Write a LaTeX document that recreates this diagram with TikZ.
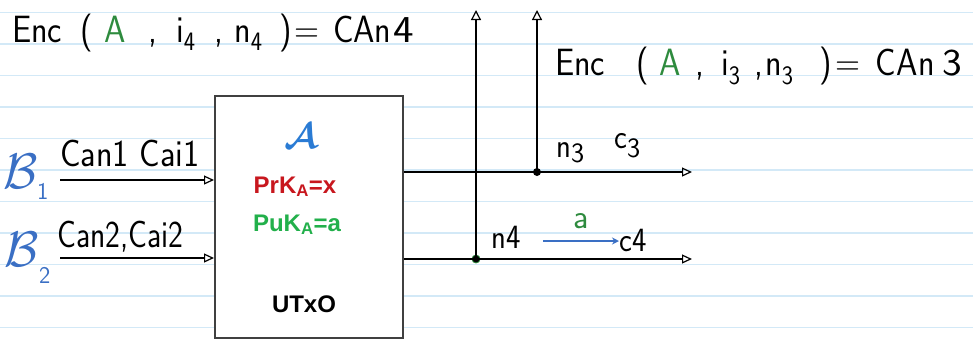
\documentclass[tikz,border=0pt]{standalone}
\usepackage{fontspec}
\setmainfont{Liberation Sans}
\usetikzlibrary{arrows.meta}
\definecolor{ruleblue}{HTML}{D3E9F7}
\definecolor{hwgreen}{HTML}{2E8B3E}
\definecolor{hwblue}{HTML}{3A6FC4}
\definecolor{keyred}{HTML}{C8171E}
\definecolor{keygreen}{HTML}{22B04B}
\definecolor{scriptblue}{HTML}{2A7BD4}
\newcommand\hwx[2][0.9]{\scalebox{#1}[1]{#2}}
\tikzset{
  hw/.style={inner sep=0pt, anchor=base west, font=\sffamily\fontsize{38}{38}\selectfont},
  hwmid/.style={hw, font=\sffamily\fontsize{34}{34}\selectfont},
  keytext/.style={inner sep=0pt, anchor=base, font=\bfseries\fontsize{24}{24}\selectfont},
  boxstyle/.style={draw=black!75, line width=2pt, fill=white, minimum width=188pt, minimum height=242pt, inner sep=0pt},
  pen/.style={line width=1.3pt, black},
  tipo/.style={-{Triangle[open, length=10pt, width=9pt, line width=1.2pt]}},
  tipup/.style={-{Triangle[open, length=10pt, width=10pt, line width=1.2pt]}},
  dot/.style={circle, fill=black, inner sep=0pt, minimum size=8pt}
}
\begin{document}
\begin{tikzpicture}[x=1pt,y=-1pt]
\useasboundingbox (0,0) rectangle (973,341);
\foreach \yy in {12.5,44,75.5,107,138.5,170,201.5,233,264.5,296,327.5}
  \draw[ruleblue, line width=1.3pt] (0,\yy) -- (973,\yy);

% top-left formula
\node[hw] (e1) at (12,42) {\hwx{Enc}};
\node[hw] (e2) at (80,42) {\hwx{(}};
\node[hw, text=hwgreen] (e3) at (104,42) {\hwx{A}};
\node[hw] (e4) at (148,42) {\hwx{,}};
\node[hw] (e5) at (176,42) {\hwx{i\textsubscript{4}}};
\node[hw] (e6) at (214,42) {\hwx{,}};
\node[hw] (e7) at (234,42) {\hwx{n\textsubscript{4}}};
\node[hw] (e8) at (279,42) {\hwx{)}};
\node[hw] (e9) at (294,42) {\hwx{=}};
\node[hw] (e10) at (333,42) {\hwx{C}};
\node[hw] (e11) at (353,42) {\hwx{A}};
\node[hw] (e12) at (374,42) {\hwx{n}};
\node[hw] (e13) at (393,42) {\hwx[1.15]{4}};

% top-right formula
\node[hw] (f1) at (555,75) {\hwx{Enc}};
\node[hw] (f2) at (636,75) {\hwx{(}};
\node[hw, text=hwgreen] (f3) at (659,75) {\hwx{A}};
\node[hw] (f4) at (695,75) {\hwx{,}};
\node[hw] (f5) at (721,75) {\hwx{i\textsubscript{3}}};
\node[hw] (f6) at (754,75) {\hwx{,}};
\node[hw] (f7) at (765,75) {\hwx{n\textsubscript{3}}};
\node[hw] (f8) at (819,75) {\hwx{)}};
\node[hw] (f9) at (835,75) {\hwx{=}};
\node[hw] (f10) at (875,75) {\hwx{C}};
\node[hw] (f11) at (896,75) {\hwx{A}};
\node[hw] (f12) at (918,75) {\hwx{n}};
\node[hw] (f13) at (942,75) {\hwx[1.1]{3}};

% box
\node[boxstyle] (box) at (309,217) {};
\node[inner sep=0pt, text=scriptblue] (sa) at (301,136) {\scalebox{3.6}{\boldmath$\mathcal{A}$}};
\node[keytext, text=keyred] (prk) at (295,193) {PrK\textsubscript{A}=x};
\node[keytext, text=keygreen] (puk) at (297,231) {PuK\textsubscript{A}=a};
\node[keytext, text=black] (utxo) at (304,312) {UTxO};

% inputs
\node[inner sep=0pt, anchor=base west, text=hwblue] (b1) at (3,188) {\scalebox{5}{$\mathcal{B}$}};
\node[inner sep=0pt, anchor=base west, text=hwblue, font=\sffamily\fontsize{24}{24}\selectfont] (b1s) at (37,199) {1};
\node[inner sep=0pt, anchor=base west, text=hwblue] (b2) at (4,266) {\scalebox{5}{$\mathcal{B}$}};
\node[inner sep=0pt, anchor=base west, text=hwblue, font=\sffamily\fontsize{24}{24}\selectfont] (b2s) at (39,283) {2};
\node[hw] (l1) at (60,166) {\hwx[0.9]{Can1 Cai1}};
\node[hw] (l2) at (57,247) {\hwx[0.83]{Can2,Cai2}};
\coordinate (i1) at (60,180);
\coordinate (i2) at (60,258);
\draw[pen, tipo] (i1) -- (box.west |- i1);
\draw[pen, tipo] (i2) -- (box.west |- i2);

% outputs
\node[dot] (j3) at (537,172) {};
\node[dot, draw=hwgreen, line width=0.8pt] (j4) at (476,259) {};
\coordinate (o3) at (692,172);
\coordinate (o4) at (692,259);
\coordinate (u3) at (537,10);
\coordinate (u4) at (476,10);
\draw[pen] (box.east |- j3) -- (j3.center);
\draw[pen, tipo] (j3.center) -- (o3);
\draw[pen] (box.east |- j4) -- (j4.center);
\draw[pen, tipo] (j4.center) -- (o4);
\draw[pen, tipup] (j3.center) -- (u3);
\draw[pen, tipup] (j4.center) -- (u4);

% labels on outputs
\node[hwmid] (n3) at (556,157) {\hwx{n}\raisebox{-5pt}{\fontsize{28}{28}\selectfont 3}};
\node[hwmid] (c3) at (614,148) {\hwx{c}\raisebox{-9pt}{\fontsize{28}{28}\selectfont 3}};
\node[hwmid] (n4) at (491,248) {\hwx{n4}};
\node[hwmid] (c4) at (619,251) {\hwx{c4}};
\node[hwmid, text=hwgreen, anchor=base] (ga) at (581,228) {a};
\draw[hwblue, line width=1.3pt, -{Stealth[open, length=7pt, width=7pt]}] (543,241) -- (c4.west |- 0,241);
\end{tikzpicture}
\end{document}
